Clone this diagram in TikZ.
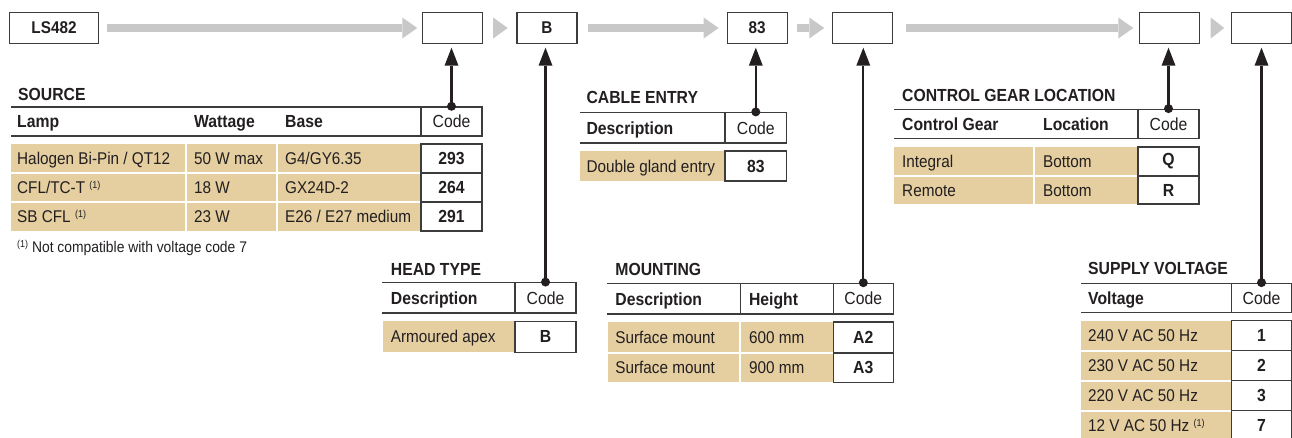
\documentclass[tikz,border=0pt]{standalone}
\usepackage{fontspec}
\setmainfont{Liberation Sans}[FakeStretch=0.9]
\usetikzlibrary{arrows.meta}
\definecolor{txt}{RGB}{35,31,32}
\definecolor{linec}{RGB}{60,60,60}
\definecolor{tanc}{RGB}{229,207,161}
\definecolor{greyc}{RGB}{200,200,200}
\newcommand\myfnmark{\raisebox{5pt}{\fontsize{10}{10}\selectfont(1)}}
\tikzset{
 every node/.style={text=txt},
 topbox/.style={draw=linec, line width=1.4pt, fill=white, minimum width=60pt, minimum height=31pt, inner sep=0pt, font=\fontsize{17}{17}\selectfont\bfseries},
 hdrule/.style={draw=linec, line width=1.4pt},
 sepline/.style={draw=white, line width=2pt},
 garrow/.style={draw=greyc, line width=8pt, -{Triangle[length=15pt,width=21pt,line width=0pt]}},
 gtri/.style={fill=greyc},
 varrow/.style={draw=txt, line width=2.2pt, -{Triangle[length=18pt,width=14pt,line width=0pt]}, shorten >=3.5pt},
 title/.style={anchor=base west, inner sep=0pt, font=\fontsize{17.5}{17.5}\selectfont\bfseries},
 hd/.style={anchor=base west, inner sep=0pt, font=\fontsize{17.5}{17.5}\selectfont\bfseries},
 body/.style={anchor=base west, inner sep=0pt, font=\fontsize{17}{17}\selectfont},
 codehd/.style={draw=linec, line width=1.4pt, fill=white, minimum width=61pt, minimum height=29pt, inner sep=0pt, font=\fontsize{17.5}{17.5}\selectfont},
 codeval/.style={draw=linec, line width=1.4pt, fill=white, minimum width=61pt, minimum height=29pt, inner sep=0pt, font=\fontsize{17.5}{17.5}\selectfont\bfseries},
}
\begin{document}
\begin{tikzpicture}[x=1pt,y=-1pt]
\useasboundingbox (0,0) rectangle (1292,437);
\clip (0,0) rectangle (1292,437);

% ---------- top row ----------
\node[topbox, minimum width=89pt] (ls) at (54,28) {LS482};
\node[topbox] (b1) at (452.5,28) {};
\node[topbox] (bB) at (547,28) {B};
\node[topbox] (b83) at (757.2,28) {83};
\node[topbox] (b4) at (862.3,28) {};
\node[topbox] (b5) at (1169.5,28) {};
\node[topbox] (b6) at (1261.5,28) {};

\draw[garrow] ([xshift=7.5pt]ls.east) -- ([xshift=-4.5pt]b1.west);
\draw[garrow] ([xshift=10.3pt]bB.east) -- ([xshift=-7.9pt]b83.west);
\draw[garrow] ([xshift=8.8pt]b83.east) -- ([xshift=-7.3pt]b4.west);
\draw[garrow] ([xshift=12.7pt]b4.east) -- ([xshift=-5.5pt]b5.west);
\fill[gtri] ([xshift=10pt,yshift=10.5pt]b1.east) -- ([xshift=24.5pt]b1.east) -- ([xshift=10pt,yshift=-10.5pt]b1.east) -- cycle;
\fill[gtri] ([xshift=10.5pt,yshift=10.5pt]b5.east) -- ([xshift=24pt]b5.east) -- ([xshift=10.5pt,yshift=-10.5pt]b5.east) -- cycle;

% ---------- SOURCE ----------
\node[title] (srcT) at (18,100.7) {SOURCE};
\draw[hdrule] (11,107) -- (421,107);
\draw[hdrule] (11,136) -- (421,136);
\node[codehd] (srcCode) at (451.5,121.5) {Code};
\node[hd] (srcH1) at (17,127.8) {Lamp};
\node[hd] (srcH2) at (194,127.8) {Wattage};
\node[hd] (srcH3) at (285,127.8) {Base};
\fill[tanc] (11,144) rectangle (421,230.7);
\draw[sepline] (11,173) -- (421,173);
\draw[sepline] (11,202) -- (421,202);
\draw[sepline] (186,144) -- (186,230.7);
\draw[sepline] (277,144) -- (277,230.7);
\node[codeval] (srcC1) at (451.5,158.5) {293};
\node[codeval] (srcC2) at (451.5,187.5) {264};
\node[codeval] (srcC3) at (451.5,216.4) {291};
\node[body] (srcL1) at (17,164.5) {Halogen Bi-Pin / QT12};
\node[body] (srcW1) at (194,164.5) {50 W max};
\node[body] (srcB1) at (285,164.5) {G4/GY6.35};
\node[body] (srcL2) at (17,193.5) {CFL/TC-T \myfnmark};
\node[body] (srcW2) at (194,193.5) {18 W};
\node[body] (srcB2) at (285,193.5) {GX24D-2};
\node[body] (srcL3) at (17,222.4) {SB CFL \myfnmark};
\node[body] (srcW3) at (194,222.4) {23 W};
\node[body] (srcB3) at (285,222.4) {E26 / E27 medium};
\node[body, font=\fontsize{15.4}{15.4}\selectfont] (fn) at (17,252.7) {\myfnmark\ Not compatible with voltage code 7};

% ---------- HEAD TYPE ----------
\node[title] (htT) at (390.7,275.5) {HEAD TYPE};
\draw[hdrule] (382,282.7) -- (515,282.7);
\draw[hdrule] (382,313) -- (515,313);
\node[codehd, minimum height=30.3pt] (htCode) at (545.5,297.9) {Code};
\node[hd] (htH1) at (390.7,304.2) {Description};
\fill[tanc] (383,321.3) rectangle (515,352.3);
\node[codeval, minimum height=31pt] (htC1) at (545.5,336.8) {B};
\node[body] (htD1) at (390.7,342.8) {Armoured apex};

% ---------- CABLE ENTRY ----------
\node[title] (ceT) at (586.4,103) {CABLE ENTRY};
\draw[hdrule] (579.7,112.6) -- (725,112.6);
\draw[hdrule] (579.7,143) -- (725,143);
\node[codehd, minimum width=61.6pt, minimum height=30.4pt] (ceCode) at (755.8,127.8) {Code};
\node[hd] (ceH1) at (586.4,134) {Description};
\fill[tanc] (580,151) rectangle (725,181);
\node[codeval, minimum width=61.6pt, minimum height=30pt] (ceC1) at (755.8,166) {83};
\node[body] (ceD1) at (586.4,172) {Double gland entry};

% ---------- MOUNTING ----------
\node[title] (mtT) at (615.2,275.5) {MOUNTING};
\draw[hdrule] (607,283.4) -- (833.2,283.4);
\draw[hdrule] (607,314) -- (833.2,314);
\draw[hdrule] (740.2,283.4) -- (740.2,314);
\node[codehd, minimum width=60.2pt, minimum height=30.6pt] (mtCode) at (863.3,298.7) {Code};
\node[hd] (mtH1) at (615.2,305) {Description};
\node[hd] (mtH2) at (748.8,305) {Height};
\fill[tanc] (608,322) rectangle (833.2,382.2);
\draw[sepline] (608,353) -- (833.2,353);
\draw[sepline] (740.2,322) -- (740.2,382.2);
\node[codeval, minimum width=60.2pt, minimum height=31pt] (mtC1) at (863.3,337.5) {A2};
\node[codeval, minimum width=60.2pt, minimum height=29.2pt] (mtC2) at (863.3,367.6) {A3};
\node[body] (mtD1) at (615.2,343.5) {Surface mount};
\node[body] (mtE1) at (748.8,343.5) {600 mm};
\node[body] (mtD2) at (615.2,373.6) {Surface mount};
\node[body] (mtE2) at (748.8,373.6) {900 mm};

% ---------- CONTROL GEAR LOCATION ----------
\node[title] (cgT) at (902,101.7) {CONTROL GEAR LOCATION};
\draw[hdrule] (894,109.3) -- (1138,109.3);
\draw[hdrule] (894,138.3) -- (1138,138.3);
\node[codehd] (cgCode) at (1168.5,123.8) {Code};
\node[hd] (cgH1) at (902,130) {Control Gear};
\node[hd] (cgH2) at (1043,130) {Location};
\fill[tanc] (894,147) rectangle (1138,204);
\draw[sepline] (894,176) -- (1138,176);
\draw[sepline] (1034,147) -- (1034,204);
\node[codeval] (cgC1) at (1168.5,161.5) {Q};
\node[codeval, minimum height=28pt] (cgC2) at (1168.5,190) {R};
\node[body] (cgG1) at (902,167.5) {Integral};
\node[body] (cgL1) at (1043,167.5) {Bottom};
\node[body] (cgG2) at (902,196) {Remote};
\node[body] (cgL2) at (1043,196) {Bottom};

% ---------- SUPPLY VOLTAGE ----------
\node[title] (svT) at (1088,274.3) {SUPPLY VOLTAGE};
\draw[hdrule] (1081,283.3) -- (1232,283.3);
\draw[hdrule] (1081,312.3) -- (1232,312.3);
\node[codehd, minimum width=60pt] (svCode) at (1261.5,297.8) {Code};
\node[hd] (svH1) at (1088,304) {Voltage};
\fill[tanc] (1081,320.7) rectangle (1232,440.7);
\draw[sepline] (1081,350.7) -- (1232,350.7);
\draw[sepline] (1081,380.7) -- (1232,380.7);
\draw[sepline] (1081,410.7) -- (1232,410.7);
\node[codeval, minimum width=60pt, minimum height=30pt] (svC1) at (1261.5,335.7) {1};
\node[codeval, minimum width=60pt, minimum height=30pt] (svC2) at (1261.5,365.7) {2};
\node[codeval, minimum width=60pt, minimum height=30pt] (svC3) at (1261.5,395.7) {3};
\node[codeval, minimum width=60pt, minimum height=30pt] (svC4) at (1261.5,425.7) {7};
\node[body] (svV1) at (1088,341.7) {240 V AC 50 Hz};
\node[body] (svV2) at (1088,371.7) {230 V AC 50 Hz};
\node[body] (svV3) at (1088,401.7) {220 V AC 50 Hz};
\node[body] (svV4) at (1088,431.7) {12 V AC 50 Hz \myfnmark};

% ---------- vertical connectors ----------
\draw[varrow] (srcCode.north) -- (srcCode.north |- b1.south);
\fill[txt] (srcCode.north) circle (4.5pt);
\draw[varrow] (htCode.north) -- (htCode.north |- bB.south);
\fill[txt] (htCode.north) circle (4.5pt);
\draw[varrow] (ceCode.north) -- (ceCode.north |- b83.south);
\fill[txt] (ceCode.north) circle (4.5pt);
\draw[varrow] (mtCode.north) -- (mtCode.north |- b4.south);
\fill[txt] (mtCode.north) circle (4.5pt);
\draw[varrow] (cgCode.north) -- (cgCode.north |- b5.south);
\fill[txt] (cgCode.north) circle (4.5pt);
\draw[varrow] (svCode.north) -- (svCode.north |- b6.south);
\fill[txt] (svCode.north) circle (4.5pt);
\end{tikzpicture}
\end{document}
